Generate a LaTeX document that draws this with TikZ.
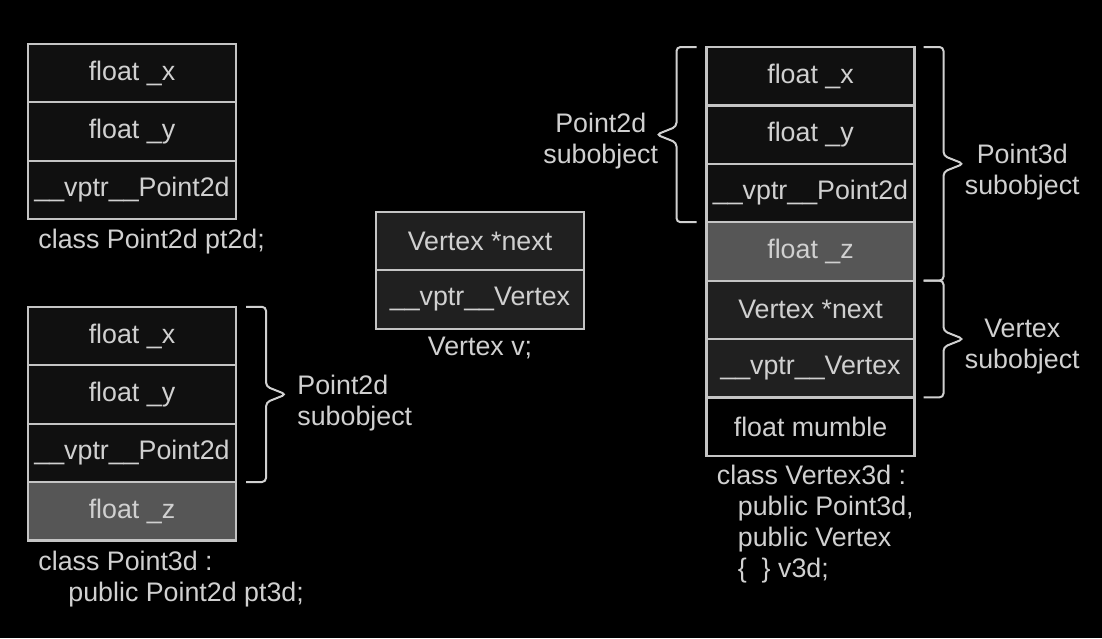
\documentclass[tikz,border=0pt]{standalone}
\usepackage{fontspec}
\setmainfont{Liberation Sans}
\usetikzlibrary{positioning,calc}

\definecolor{ink}{RGB}{208,208,208}
\definecolor{frame}{RGB}{196,196,196}
\definecolor{cellbg}{RGB}{16,16,16}
\definecolor{vxbg}{RGB}{32,32,32}
\definecolor{zbg}{RGB}{86,86,86}

\begin{document}
\begin{tikzpicture}[
    x=0.5pt, y=-0.5pt,
    font=\fontsize{13.4}{15.5}\selectfont,
    cell/.style={draw=frame, line width=1.1pt, fill=cellbg, text=ink,
                 outer sep=0pt, inner sep=1pt,
                 minimum width=104pt, minimum height=29.2pt},
    zcell/.style={cell, fill=zbg},
    vcell/.style={cell, fill=vxbg},
    lbl/.style={text=ink, inner sep=0pt, align=left},
    sub/.style={text=ink, inner sep=0pt, align=center},
    brace/.style={draw=ink, line width=1pt, rounded corners=2pt,
        to path={let \p1=(\tikztostart), \p2=(\tikztotarget),
                     \n1={0.5*(\y1+\y2)} in
          -- (\x1+#1*10pt,\y1) -- (\x1+#1*10pt,\n1+4pt) -- (\x1+#1*20pt,\n1+0pt)
          -- (\x1+#1*10pt,\n1-4pt) -- (\x1+#1*10pt,\y2) -- (\tikztotarget)}},
]

% ---- page ---------------------------------------------------------
\fill[black] (0,0) rectangle (1102,638);

% ---- class Point2d pt2d -------------------------------------------
\node[cell] (p1) at (132,73) {float \_x};
\node[cell, below=0pt of p1] (p2) {float \_y};
\node[cell, below=0pt of p2] (p3) {\_\_vptr\_\_Point2d};
\node[lbl, below right=5pt and 5pt of p3.south west] (p2dname) {class Point2d pt2d;};

% ---- class Point3d pt3d -------------------------------------------
\node[cell] (q1) at (132,336) {float \_x};
\node[cell, below=0pt of q1] (q2) {float \_y};
\node[cell, below=0pt of q2] (q3) {\_\_vptr\_\_Point2d};
\node[zcell, below=0pt of q3] (q4) {float \_z};
\node[lbl, below right=5pt and 5pt of q4.south west] (p3dname)
    {class Point3d :\\\hspace*{15pt}public Point2d pt3d;};

\draw[brace=1] ($(q1.north east)+(5pt,0)$) to ($(q3.south east)+(5pt,0)$);
\node[lbl, anchor=west] (q2sub) at ($(q2.east)+(30.5pt,-4.5pt)$) {Point2d\\subobject};

% ---- Vertex v -----------------------------------------------------
\node[vcell] (x1) at (480,241) {Vertex *next};
\node[vcell, below=0pt of x1] (x2) {\_\_vptr\_\_Vertex};
\node[lbl, below=4pt of x2] (vname) {Vertex v;};

% ---- class Vertex3d v3d -------------------------------------------
\node[cell] (v1) at (810.5,76.2) {float \_x};
\node[cell, below=0pt of v1] (v2) {float \_y};
\node[cell, below=0pt of v2] (v3) {\_\_vptr\_\_Point2d};
\node[zcell, below=0pt of v3] (v4) {float \_z};
\node[vcell, below=0pt of v4] (v5) {Vertex *next};
\node[vcell, below=0pt of v5] (v6) {\_\_vptr\_\_Vertex};
\node[cell, fill=black, below=0pt of v6] (v7) {float mumble};
\node[lbl, below right=4.5pt and 5pt of v7.south west] (v3dname)
    {class Vertex3d :\\\hspace*{10.5pt}public Point3d,\\\hspace*{10.5pt}public Vertex\\\hspace*{10.5pt}\{\ \ \} v3d;};

% ---- subobject braces ---------------------------------------------
\draw[brace=-1] ($(v1.north west)+(-5pt,0)$) to ($(v3.south west)+(-5pt,0)$);
\draw[brace=1] ($(v1.north east)+(4.5pt,0)$) to ($(v4.south east)+(4.5pt,0)$);
\draw[brace=1] ($(v5.north east)+(4.5pt,0)$) to ($(v6.south east)+(4.5pt,0)$);

\node[sub, left=24pt of v2.west, yshift=-3pt] (v2sub) {Point2d\\subobject};
\node[sub, right=25pt of v2.south east, yshift=-4pt] (v3sub) {Point3d\\subobject};
\node[sub, right=25pt of v5.south east, yshift=-4pt] (vxsub) {Vertex\\subobject};

\end{tikzpicture}
\end{document}
